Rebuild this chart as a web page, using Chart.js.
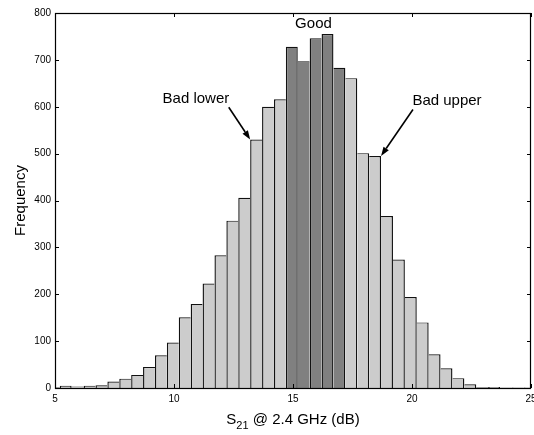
<!DOCTYPE html>
<html>
<head>
<meta charset="utf-8">
<script src="https://cdn.jsdelivr.net/npm/chart.js@4/dist/chart.umd.min.js"></script>
<style>
html,body{margin:0;padding:0;background:#ffffff;}
#wrap{width:534px;height:435px;position:relative;}
</style>
</head>
<body>
<div id="wrap"><canvas id="c" width="534" height="435"></canvas></div>
<script>
// ---- data ----
const binCenters = [4.95, 5.45, 5.95, 6.45, 6.95, 7.45, 7.95, 8.45, 8.95, 9.45, 9.95,
  10.45, 10.95, 11.45, 11.95, 12.45, 12.95, 13.45, 13.95, 14.45, 14.95,
  15.45, 15.95, 16.45, 16.95, 17.45, 17.95, 18.45, 18.95, 19.45, 19.95,
  20.45, 20.95, 21.45, 21.95, 22.45, 22.95, 23.45, 23.95, 24.45, 24.95];
const counts = [2, 5, 3, 5, 6, 14, 20, 28, 45, 70, 97,
  151, 179, 223, 283, 357, 406, 530, 600, 616, 728,
  697, 746, 755, 683, 661, 501, 495, 367, 274, 194,
  140, 72, 42, 21, 8, 2, 2, 1, 1, 1];
const goodRange = [14.7, 17.2];
const xTicks = [5, 10, 15, 20, 25];
const yTicks = [0, 100, 200, 300, 400, 500, 600, 700, 800];
const xTitleMain = 'S';
const xTitleSub = '21';
const xTitleRest = ' @ 2.4 GHz (dB)';
const yTitle = 'Frequency';
const labels = [
  { text: 'Good', x: 15.86, y: 777 },
  { text: 'Bad lower', x: 10.92, y: 617 },
  { text: 'Bad upper', x: 21.47, y: 612 }
];
const arrows = [
  { from: [12.30, 599], to: [13.2, 530] },
  { from: [20.04, 594], to: [18.7, 495] }
];

const FONT = '"Liberation Sans", Arial, Helvetica, sans-serif';

const decor = {
  id: 'decor',
  afterDatasetsDraw(chart) {
    const { ctx, chartArea: a, scales: { x, y } } = chart;
    ctx.save();
    // frame
    ctx.strokeStyle = '#000';
    ctx.lineWidth = 1.2;
    ctx.strokeRect(a.left + 0.5, a.top + 0.5, a.right - a.left - 1, a.bottom - a.top);
    // inward ticks
    ctx.lineWidth = 1;
    ctx.beginPath();
    xTicks.forEach(v => {
      const px = Math.round(x.getPixelForValue(v)) + 0.5;
      ctx.moveTo(px, a.bottom); ctx.lineTo(px, a.bottom - 4);
      ctx.moveTo(px, a.top); ctx.lineTo(px, a.top + 4);
    });
    yTicks.forEach(v => {
      const py = Math.round(y.getPixelForValue(v)) + 0.5;
      ctx.moveTo(a.left, py); ctx.lineTo(a.left + 4, py);
      ctx.moveTo(a.right, py); ctx.lineTo(a.right - 4, py);
    });
    ctx.stroke();

    // annotation labels
    ctx.fillStyle = '#000';
    ctx.font = '15px ' + FONT;
    ctx.textAlign = 'center';
    ctx.textBaseline = 'middle';
    labels.forEach(l => {
      ctx.fillText(l.text, x.getPixelForValue(l.x), y.getPixelForValue(l.y));
    });
    // arrows
    arrows.forEach(ar => {
      const x1 = x.getPixelForValue(ar.from[0]), y1 = y.getPixelForValue(ar.from[1]);
      const x2 = x.getPixelForValue(ar.to[0]), y2 = y.getPixelForValue(ar.to[1]);
      const ang = Math.atan2(y2 - y1, x2 - x1);
      const L = 9, W = 3.2;
      const bx = x2 - L * Math.cos(ang), by = y2 - L * Math.sin(ang);
      ctx.strokeStyle = '#000';
      ctx.lineWidth = 1.6;
      ctx.beginPath();
      ctx.moveTo(x1, y1); ctx.lineTo(bx, by);
      ctx.stroke();
      ctx.beginPath();
      ctx.moveTo(x2, y2);
      ctx.lineTo(bx + W * Math.sin(ang), by - W * Math.cos(ang));
      ctx.lineTo(bx - W * Math.sin(ang), by + W * Math.cos(ang));
      ctx.closePath();
      ctx.fill();
    });

    // y title
    ctx.save();
    ctx.translate(21, (a.top + a.bottom) / 2);
    ctx.rotate(-Math.PI / 2);
    ctx.font = '15px ' + FONT;
    ctx.textAlign = 'center';
    ctx.textBaseline = 'middle';
    ctx.fillText(yTitle, 0, 0);
    ctx.restore();

    // x title with subscript
    ctx.textAlign = 'left';
    ctx.textBaseline = 'alphabetic';
    ctx.font = '15px ' + FONT;
    const w1 = ctx.measureText(xTitleMain).width;
    const w3 = ctx.measureText(xTitleRest).width;
    ctx.font = '11px ' + FONT;
    const w2 = ctx.measureText(xTitleSub).width;
    const total = w1 + w2 + w3;
    let sx = (a.left + a.right) / 2 - total / 2;
    const base = 424;
    ctx.font = '15px ' + FONT;
    ctx.fillText(xTitleMain, sx, base);
    sx += w1;
    ctx.font = '11px ' + FONT;
    ctx.fillText(xTitleSub, sx, base + 5);
    sx += w2;
    ctx.font = '15px ' + FONT;
    ctx.fillText(xTitleRest, sx, base);
    ctx.restore();
  }
};

new Chart(document.getElementById('c'), {
  type: 'bar',
  data: {
    datasets: [{
      data: binCenters.map((c, i) => ({ x: c, y: counts[i] })),
      backgroundColor: ctx => {
        const c = binCenters[ctx.dataIndex];
        return (c > goodRange[0] && c < goodRange[1]) ? '#808080' : '#cccccc';
      },
      borderColor: '#111111',
      borderWidth: ctx => {
        const i = ctx.dataIndex;
        const v = counts[i];
        const prev = i > 0 ? counts[i - 1] : 0;
        const next = i < counts.length - 1 ? counts[i + 1] : 0;
        return { top: 1.2, bottom: 0, left: prev <= v ? 1.4 : 0, right: next < v ? 1.4 : 0 };
      },
      borderSkipped: false,
      barPercentage: 1,
      categoryPercentage: 1,
      inflateAmount: 0
    }]
  },
  options: {
    responsive: false,
    animation: false,
    layout: { padding: { top: 13, right: 3, left: 0, bottom: 0 } },
    plugins: { legend: { display: false }, tooltip: { enabled: false } },
    scales: {
      x: {
        type: 'linear', min: 5, max: 25, offset: false,
        grid: { display: false, drawTicks: false },
        border: { display: false },
        ticks: { padding: 5, color: '#000', font: { family: FONT, size: 10 }, maxRotation: 0, autoSkip: false },
        afterBuildTicks: s => { s.ticks = xTicks.map(v => ({ value: v })); },
        afterFit: s => { s.height = 47; s.paddingLeft = 0; s.paddingRight = 0; }
      },
      y: {
        min: 0, max: 800,
        grid: { display: false, drawTicks: false },
        border: { display: false },
        ticks: { padding: 4, color: '#000', font: { family: FONT, size: 10 } },
        afterBuildTicks: s => { s.ticks = yTicks.map(v => ({ value: v })); },
        afterFit: s => { s.width = 55; s.paddingTop = 0; s.paddingBottom = 0; }
      }
    }
  },
  plugins: [decor]
});
</script>
</body>
</html>
